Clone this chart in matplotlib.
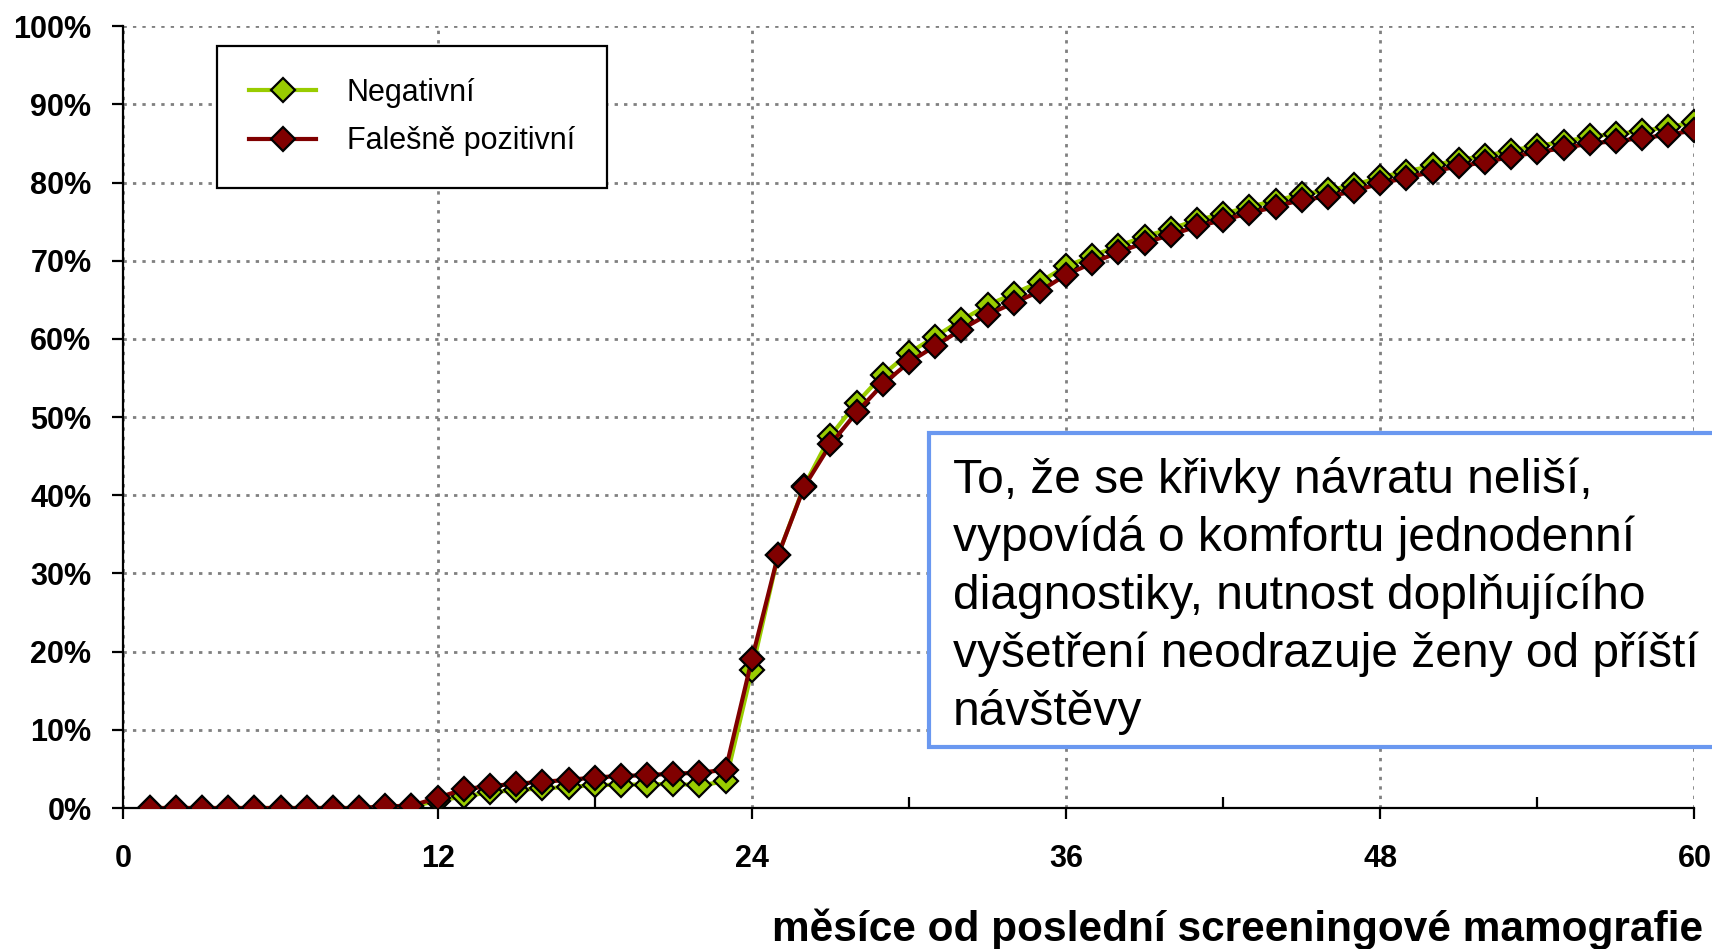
import matplotlib
matplotlib.use("Agg")
import matplotlib.pyplot as plt
from matplotlib.patches import Rectangle
from matplotlib.ticker import FuncFormatter, MultipleLocator

plt.rcParams['font.family'] = ['Liberation Sans', 'DejaVu Sans']

# months since last screening mammography
months = list(range(1, 61))

# cumulative return (%)
negativni = [0, 0, 0, 0, 0, 0, 0, 0, 0, 0.1,
             0.2, 0.9, 1.5, 2.0, 2.3, 2.5, 2.7, 2.9, 3.0, 3.0,
             3.1, 2.9, 3.4, 17.6, 32.3, 41.2, 47.6, 51.8, 55.4, 58.2,
             60.3, 62.4, 64.3, 65.8, 67.3, 69.3, 70.6, 71.9, 73.1, 74.1,
             75.2, 76.0, 76.9, 77.7, 78.5, 79.0, 79.7, 80.7, 81.4, 82.2,
             82.9, 83.4, 84.1, 84.7, 85.2, 85.9, 86.2, 86.6, 87.1, 87.7]
falesne = [0, 0, 0, 0, 0, 0, 0, 0, 0, 0.2,
           0.3, 1.3, 2.4, 2.8, 3.1, 3.35, 3.6, 3.9, 4.1, 4.2,
           4.4, 4.5, 4.9, 19.0, 32.3, 41.1, 46.5, 50.6, 54.2, 57.0,
           59.1, 61.2, 63.1, 64.6, 66.1, 68.2, 69.7, 71.1, 72.3, 73.3,
           74.4, 75.2, 76.1, 76.9, 77.8, 78.2, 78.9, 79.9, 80.6, 81.4,
           82.1, 82.6, 83.3, 83.9, 84.4, 85.0, 85.3, 85.7, 86.1, 86.7]

labels = ["Negativní", "Falešně pozitivní"]
xlabel = "měsíce od poslední screeningové mamografie"
note_lines = ["To, že se křivky návratu neliší,",
              "vypovídá o komfortu jednodenní",
              "diagnostiky, nutnost doplňujícího",
              "vyšetření neodrazuje ženy od příští",
              "návštěvy"]

W, H = 1712, 949
fig = plt.figure(figsize=(W / 100, H / 100), dpi=100)
ax = fig.add_axes([123.4 / W, 1 - 808 / H, (1694.5 - 123.4) / W, (808 - 26.2) / H])

ax.plot(months, negativni, color='#99CC00', lw=3, marker='D', ms=12,
        mfc='#99CC00', mec='black', mew=1.6, label=labels[0], zorder=3)
ax.plot(months, falesne, color='#800000', lw=3, marker='D', ms=12,
        mfc='#800000', mec='black', mew=1.6, label=labels[1], zorder=4)

ax.set_xlim(0, 60)
ax.set_ylim(0, 100)
ax.xaxis.set_major_locator(MultipleLocator(12))
ax.xaxis.set_minor_locator(MultipleLocator(6))
ax.yaxis.set_major_locator(MultipleLocator(10))
ax.yaxis.set_major_formatter(FuncFormatter(lambda v, p: "%d%%" % v))

ax.grid(True, which='major', color='#808080', lw=2, ls=(0, (1.2, 2.2)))
ax.set_axisbelow(True)

for s in ['top', 'right']:
    ax.spines[s].set_visible(False)
for s in ['left', 'bottom']:
    ax.spines[s].set_linewidth(1.6)

ax.tick_params(axis='both', which='major', direction='out', length=8,
               width=1.6, labelsize=22)
ax.tick_params(axis='x', which='major', pad=18)
ax.tick_params(axis='y', which='major', pad=15)
ax.tick_params(axis='x', which='minor', direction='in', length=8, width=1.6)
for t in ax.get_xticklabels() + ax.get_yticklabels():
    t.set_fontweight('bold')

leg = ax.legend(loc='upper left', bbox_to_anchor=(0.0596, 0.9747),
                borderaxespad=0, fontsize=22, handlelength=2.2,
                handletextpad=1.0, borderpad=1.05, labelspacing=0.6,
                fancybox=False, framealpha=1, edgecolor='black')
leg.get_frame().set_linewidth(1.6)

fig.text(1703 / W, 1 - 941 / H, xlabel, ha='right', va='baseline',
         fontsize=30.5, fontweight='bold')

# note box, running off the right edge
fig.patches.append(Rectangle((929 / W, 1 - 747 / H), 0.6, (747 - 433) / H,
                             transform=fig.transFigure, facecolor='white',
                             edgecolor='#6A98F0', lw=3, zorder=5))
for i, line in enumerate(note_lines):
    fig.text(953 / W, 1 - (493 + 58 * i) / H, line, ha='left', va='baseline',
             fontsize=34.5, zorder=6)

fig.savefig('out.png', dpi=100)
